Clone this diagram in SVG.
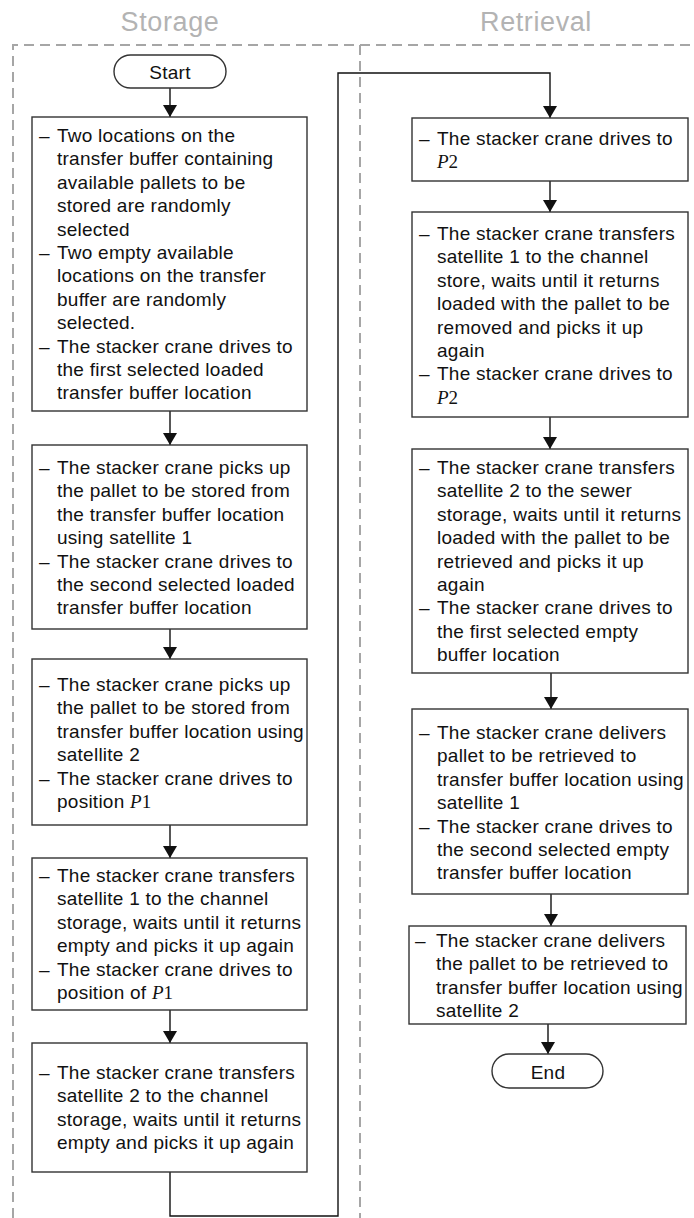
<svg xmlns="http://www.w3.org/2000/svg" width="694" height="1218" viewBox="0 0 694 1218">
  <style>
    .title { font-family: "Liberation Sans", Arial, sans-serif; font-size: 27px; fill: #b3b3b3; text-anchor: middle; letter-spacing: 0.6px; }
    .lane { fill: none; stroke: #a6a6a6; stroke-width: 2; stroke-dasharray: 10 6; }
    .box { fill: #fff; stroke: #333; stroke-width: 1.4; }
    .term { fill: #fff; stroke: #333; stroke-width: 1.4; }
    .txt { font-family: "Liberation Sans", Arial, sans-serif; font-size: 19px; fill: #111; letter-spacing: 0.25px; }
    .tc { text-anchor: middle; letter-spacing: 0.3px; }
    .m { font-family: "Liberation Serif", "Times New Roman", serif; letter-spacing: 0; }
    .mi { font-style: italic; }
    .edge { fill: none; stroke: #111; stroke-width: 1.4; }
  </style>
  <defs>
    <marker id="arrow" markerWidth="12" markerHeight="14" refX="12" refY="7" orient="auto" markerUnits="userSpaceOnUse">
      <path d="M0,0 L12,7 L0,14 Z" fill="#111"/>
    </marker>
  </defs>

  <rect width="694" height="1218" fill="#fff"/>

  <!-- swimlanes -->
  <g id="lanes">
    <text class="title" x="170" y="31">Storage</text>
    <text class="title" x="536" y="31">Retrieval</text>
    <path class="lane" d="M13,1218 V45 H694"/>
    <path class="lane" d="M360,45 V1218"/>
  </g>

  <!-- connectors -->
  <g id="connectors">
    <path class="edge" d="M170,88 V117" marker-end="url(#arrow)"/>
    <path class="edge" d="M170,411 V445" marker-end="url(#arrow)"/>
    <path class="edge" d="M170,629 V659" marker-end="url(#arrow)"/>
    <path class="edge" d="M170,825 V858" marker-end="url(#arrow)"/>
    <path class="edge" d="M170,1010 V1043" marker-end="url(#arrow)"/>
    <path class="edge" d="M170,1172 V1216 H338 V73 H550 V118" marker-end="url(#arrow)"/>
    <path class="edge" d="M550,181 V212" marker-end="url(#arrow)"/>
    <path class="edge" d="M550,417 V449" marker-end="url(#arrow)"/>
    <path class="edge" d="M551,673 V709" marker-end="url(#arrow)"/>
    <path class="edge" d="M551,894 V926" marker-end="url(#arrow)"/>
    <path class="edge" d="M548,1024 V1054" marker-end="url(#arrow)"/>
  </g>

  <g id="start">
    <rect class="term" x="114" y="55" width="112" height="33" rx="16.5"/>
    <text class="txt tc" x="170" y="78.5">Start</text>
  </g>

  <g id="s1">
    <rect class="box" x="32" y="117" width="275" height="294"/>
    <text class="txt">
      <tspan x="39" y="142">–</tspan><tspan x="57" y="142">Two locations on the</tspan>
      <tspan x="57" y="165.4">transfer buffer containing</tspan>
      <tspan x="57" y="188.8">available pallets to be</tspan>
      <tspan x="57" y="212.2">stored are randomly</tspan>
      <tspan x="57" y="235.6">selected</tspan>
      <tspan x="39" y="259">–</tspan><tspan x="57" y="259">Two empty available</tspan>
      <tspan x="57" y="282.4">locations on the transfer</tspan>
      <tspan x="57" y="305.8">buffer are randomly</tspan>
      <tspan x="57" y="329.2">selected.</tspan>
      <tspan x="39" y="352.6">–</tspan><tspan x="57" y="352.6">The stacker crane drives to</tspan>
      <tspan x="57" y="376">the first selected loaded</tspan>
      <tspan x="57" y="399.4">transfer buffer location</tspan>
    </text>
  </g>

  <g id="s2">
    <rect class="box" x="32" y="445" width="275" height="184"/>
    <text class="txt">
      <tspan x="39" y="474">–</tspan><tspan x="57" y="474">The stacker crane picks up</tspan>
      <tspan x="57" y="497.4">the pallet to be stored from</tspan>
      <tspan x="57" y="520.8">the transfer buffer location</tspan>
      <tspan x="57" y="544.2">using satellite 1</tspan>
      <tspan x="39" y="567.6">–</tspan><tspan x="57" y="567.6">The stacker crane drives to</tspan>
      <tspan x="57" y="591">the second selected loaded</tspan>
      <tspan x="57" y="614.4">transfer buffer location</tspan>
    </text>
  </g>

  <g id="s3">
    <rect class="box" x="32" y="659" width="275" height="166"/>
    <text class="txt">
      <tspan x="39" y="691">–</tspan><tspan x="57" y="691">The stacker crane picks up</tspan>
      <tspan x="57" y="714.4">the pallet to be stored from</tspan>
      <tspan x="57" y="737.8">transfer buffer location using</tspan>
      <tspan x="57" y="761.2">satellite 2</tspan>
      <tspan x="39" y="784.6">–</tspan><tspan x="57" y="784.6">The stacker crane drives to</tspan>
      <tspan x="57" y="808">position </tspan><tspan class="m mi">P</tspan><tspan class="m">1</tspan>
    </text>
  </g>

  <g id="s4">
    <rect class="box" x="32" y="858" width="275" height="152"/>
    <text class="txt">
      <tspan x="39" y="882">–</tspan><tspan x="57" y="882">The stacker crane transfers</tspan>
      <tspan x="57" y="905.4">satellite 1 to the channel</tspan>
      <tspan x="57" y="928.8">storage, waits until it returns</tspan>
      <tspan x="57" y="952.2">empty and picks it up again</tspan>
      <tspan x="39" y="975.6">–</tspan><tspan x="57" y="975.6">The stacker crane drives to</tspan>
      <tspan x="57" y="999">position of </tspan><tspan class="m mi">P</tspan><tspan class="m">1</tspan>
    </text>
  </g>

  <g id="s5">
    <rect class="box" x="32" y="1043" width="275" height="129"/>
    <text class="txt">
      <tspan x="39" y="1079">–</tspan><tspan x="57" y="1079">The stacker crane transfers</tspan>
      <tspan x="57" y="1102.4">satellite 2 to the channel</tspan>
      <tspan x="57" y="1125.8">storage, waits until it returns</tspan>
      <tspan x="57" y="1149.2">empty and picks it up again</tspan>
    </text>
  </g>

  <g id="r1">
    <rect class="box" x="412" y="118" width="276" height="63"/>
    <text class="txt">
      <tspan x="419" y="145">–</tspan><tspan x="437" y="145">The stacker crane drives to</tspan>
      <tspan class="m mi" x="437" y="168.4">P</tspan><tspan class="m">2</tspan>
    </text>
  </g>

  <g id="r2">
    <rect class="box" x="412" y="212" width="276" height="205"/>
    <text class="txt">
      <tspan x="419" y="240">–</tspan><tspan x="437" y="240">The stacker crane transfers</tspan>
      <tspan x="437" y="263.4">satellite 1 to the channel</tspan>
      <tspan x="437" y="286.8">store, waits until it returns</tspan>
      <tspan x="437" y="310.2">loaded with the pallet to be</tspan>
      <tspan x="437" y="333.6">removed and picks it up</tspan>
      <tspan x="437" y="357">again</tspan>
      <tspan x="419" y="380.4">–</tspan><tspan x="437" y="380.4">The stacker crane drives to</tspan>
      <tspan class="m mi" x="437" y="403.8">P</tspan><tspan class="m">2</tspan>
    </text>
  </g>

  <g id="r3">
    <rect class="box" x="412" y="449" width="276" height="224"/>
    <text class="txt">
      <tspan x="419" y="474">–</tspan><tspan x="437" y="474">The stacker crane transfers</tspan>
      <tspan x="437" y="497.4">satellite 2 to the sewer</tspan>
      <tspan x="437" y="520.8">storage, waits until it returns</tspan>
      <tspan x="437" y="544.2">loaded with the pallet to be</tspan>
      <tspan x="437" y="567.6">retrieved and picks it up</tspan>
      <tspan x="437" y="591">again</tspan>
      <tspan x="419" y="614.4">–</tspan><tspan x="437" y="614.4">The stacker crane drives to</tspan>
      <tspan x="437" y="637.8">the first selected empty</tspan>
      <tspan x="437" y="661.2">buffer location</tspan>
    </text>
  </g>

  <g id="r4">
    <rect class="box" x="412" y="709" width="276" height="185"/>
    <text class="txt">
      <tspan x="419" y="739">–</tspan><tspan x="437" y="739">The stacker crane delivers</tspan>
      <tspan x="437" y="762.4">pallet to be retrieved to</tspan>
      <tspan x="437" y="785.8">transfer buffer location using</tspan>
      <tspan x="437" y="809.2">satellite 1</tspan>
      <tspan x="419" y="832.6">–</tspan><tspan x="437" y="832.6">The stacker crane drives to</tspan>
      <tspan x="437" y="856">the second selected empty</tspan>
      <tspan x="437" y="879.4">transfer buffer location</tspan>
    </text>
  </g>

  <g id="r5">
    <rect class="box" x="409" y="926" width="277" height="98"/>
    <text class="txt">
      <tspan x="415" y="947">–</tspan><tspan x="436" y="947">The stacker crane delivers</tspan>
      <tspan x="436" y="970.4">the pallet to be retrieved to</tspan>
      <tspan x="436" y="993.8">transfer buffer location using</tspan>
      <tspan x="436" y="1017.2">satellite 2</tspan>
    </text>
  </g>

  <g id="end">
    <rect class="term" x="492" y="1054" width="111" height="34" rx="17"/>
    <text class="txt tc" x="548" y="1078.5">End</text>
  </g>
</svg>
